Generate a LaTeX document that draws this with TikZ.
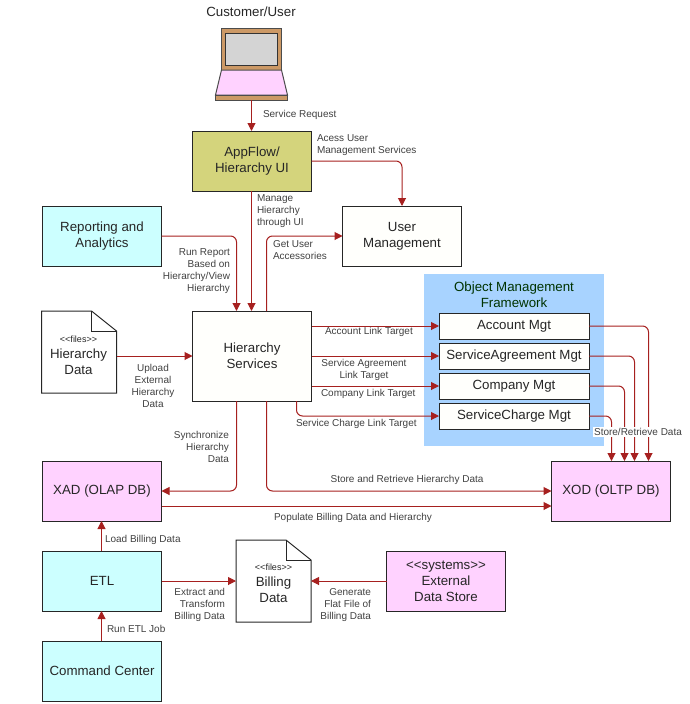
\documentclass[tikz,border=0pt]{standalone}
\usepackage{fontspec}
\setmainfont{Liberation Sans}
\usetikzlibrary{arrows.meta, positioning}
\definecolor{linkred}{HTML}{A6201F}
\definecolor{appolive}{HTML}{D4D47C}
\definecolor{etlcyan}{HTML}{CCFFFF}
\definecolor{dbpink}{HTML}{FFD2FF}
\definecolor{omfblue}{HTML}{A8D3FF}
\definecolor{laptan}{HTML}{CC9966}
\definecolor{ivory}{HTML}{FFFFFC}
\newcommand{\boxfont}{\fontsize{13.3}{16}\selectfont}
\newcommand{\labelfont}{\fontsize{10}{12}\selectfont}
\newcommand{\stereofont}{\fontsize{9}{12}\selectfont}
\tikzset{
	box/.style = {draw = black!85, line width = 1pt, inner sep = 0pt, outer sep = 0pt, align = center, minimum width = 119pt, minimum height = 60pt, font = \boxfont, text = black!85},
	mgt/.style = {box, fill = ivory, minimum width = 150pt, minimum height = 26pt},
	docnode/.style = {inner sep = 0pt, outer sep = 0pt, minimum width = 75pt, minimum height = 82pt},
	doctext/.style = {inner sep = 0pt, align = center, font = \boxfont, text = black!85},
	lbl/.style = {font = \labelfont, text = black!75, inner sep = 0pt, outer sep = 0pt},
	link/.style = {color = linkred, line width = 1pt, rounded corners = 6pt, -{Triangle[length=8pt, width=8pt]}}
}

\begin{document}
\begin{tikzpicture}[x=1pt, y=-1pt]
	\useasboundingbox (0,0) rectangle (689,704);
	% framework backdrop
	\node[fill = omfblue, minimum width = 180pt, minimum height = 172pt, inner sep = 0pt] at (514,360) (omf) {};
	\node[font = \boxfont, text = black!80!green, align = center] at (514,295) (omftitle) {Object Management\\Framework};
	% laptop
	\node[font = \boxfont, text = black!85] at (251,12) (user) {Customer/User};
	\draw[black!70, line width = 1pt, fill = laptan] (221.5,28.5) rectangle (281.5,70);
	\draw[black!80, line width = 1pt, fill = black!17] (225.5,33.5) rectangle (277.5,65.5);
	\draw[black!70, line width = 1pt, fill = dbpink] (221.5,70) -- (281.5,70) -- (287.5,95) -- (215.5,95) -- cycle;
	\draw[black!70, line width = 1pt, fill = laptan] (215.5,95) rectangle (287.5,100);
	\coordinate (laptop) at (251.5,100);
	% boxes
	\node[box, fill = appolive] at (252,161) (appflow) {AppFlow/\\Hierarchy UI};
	\node[box, fill = ivory] at (402,236) (usermgt) {User\\Management};
	\node[box, fill = etlcyan] at (102,236) (reporting) {Reporting and\\Analytics};
	\node[box, fill = ivory, minimum height = 90pt] at (252,356) (services) {Hierarchy\\Services};
	\node[mgt] at (514,326) (account) {Account Mgt};
	\node[mgt] at (514,356) (agreement) {ServiceAgreement Mgt};
	\node[mgt] at (514,386) (company) {Company Mgt};
	\node[mgt] at (514,416) (charge) {ServiceCharge Mgt};
	\node[box, fill = dbpink] at (102,491) (xad) {XAD (OLAP DB)};
	\node[box, fill = dbpink] at (611,491) (xod) {XOD (OLTP DB)};
	\node[box, fill = etlcyan] at (102,581) (etl) {ETL};
	\node[box, fill = etlcyan] at (102,671) (command) {Command Center};
	\node[box, fill = dbpink] at (446,581) (external) {<{}<systems>{}>\\External\\Data Store};
	% documents
	\node[docnode] at (79,352) (hdata) {};
	\node[docnode] at (273.5,581) (bdata) {};
	\node[doctext] at (78.5,355) (hdatatext) {{\stereofont <{}<files>{}>}\\Hierarchy\\Data};
	\node[doctext] at (273.5,583) (bdatatext) {{\stereofont <{}<files>{}>}\\Billing\\Data};
	\foreach \doc in {hdata, bdata} {
		\draw[black!85, line width = 1pt] (\doc.north west) -- ([xshift=-25pt]\doc.north east) -- ([yshift=-20pt]\doc.north east) -- (\doc.south east) -- (\doc.south west) -- cycle;
		\draw[black!85, line width = 1pt] ([xshift=-25pt]\doc.north east) -- ([xshift=-25pt, yshift=-20pt]\doc.north east) -- ([yshift=-20pt]\doc.north east);
	}
	% connectors
	\draw[link] (laptop) -- ([xshift=-.5pt]appflow.north);
	\draw[link] (appflow.east) -| (usermgt.north);
	\draw[link] ([xshift=-.5pt]appflow.south) -- ([xshift=-.5pt]services.north);
	\draw[link] (reporting.east) -| ([xshift=-15.5pt]services.north);
	\draw[link] ([xshift=14.5pt]services.north) |- (usermgt.west);
	\draw[link] (hdata.east |- services.west) -- (services.west);
	\draw[link] (services.east |- account.west) -- (account.west);
	\draw[link] (services.east |- agreement.west) -- (agreement.west);
	\draw[link] (services.east |- company.west) -- (company.west);
	\draw[link] ([xshift=44.5pt]services.south) |- (charge.west);
	\draw[link] ([xshift=-15.5pt]services.south) |- (xad.east);
	\draw[link] ([xshift=14.5pt]services.south) |- (xod.west);
	\draw[link] ([yshift=-15pt]xad.east) -- ([yshift=-15pt]xod.west);
	\draw[link] (account.east) -| ([xshift=37.5pt]xod.north);
	\draw[link] (agreement.east) -| ([xshift=23.5pt]xod.north);
	\draw[link] (company.east) -| ([xshift=13.5pt]xod.north);
	\draw[link] (charge.east) -| ([xshift=.5pt]xod.north);
	\draw[link] ([xshift=-.5pt]etl.north) -- ([xshift=-.5pt]xad.south);
	\draw[link] ([xshift=-.5pt]command.north) -- ([xshift=-.5pt]etl.south);
	\draw[link] (etl.east) -- (bdata.west);
	\draw[link] (external.west) -- (bdata.east);
	% labels
	\node[lbl, anchor = west] at (263,115) (l1) {Service Request};
	\node[lbl, anchor = west, align = left] at (317,145) (l2) {Acess User\\Management Services};
	\node[lbl, anchor = west, align = left] at (257,211) (l3) {Manage\\Hierarchy\\through UI};
	\node[lbl, anchor = west, align = left] at (273,250) (l4) {Get User\\Accessories};
	\node[lbl, anchor = east, align = right] at (230,271) (l5) {Run Report\\Based on\\Hierarchy/View\\Hierarchy};
	\node[lbl, anchor = west] at (325,332) (l6) {Account Link Target};
	\node[lbl, align = center] at (364,370) (l7) {Service Agreement\\Link Target};
	\node[lbl, anchor = west] at (321,394) (l8) {Company Link Target};
	\node[lbl, anchor = west] at (296,424) (l9) {Service Charge Link Target};
	\node[lbl, align = center] at (153,386) (l10) {Upload\\External\\Hierarchy\\Data};
	\node[lbl, anchor = east, align = right] at (229,447) (l11) {Synchronize\\Hierarchy\\Data};
	\node[lbl] at (407,480) (l12) {Store and Retrieve Hierarchy Data};
	\node[lbl] at (353,518) (l13) {Populate Billing Data and Hierarchy};
	\node[lbl, fill = white, inner sep = 1.5pt] at (638,432) (l14) {Store/Retrieve Data};
	\node[lbl, anchor = west] at (105,540) (l15) {Load Billing Data};
	\node[lbl, anchor = west] at (107,629) (l16) {Run ETL Job};
	\node[lbl, anchor = east, align = right] at (225,605) (l17) {Extract and\\Transform\\Billing Data};
	\node[lbl, anchor = east, align = right] at (371,605) (l18) {Generate\\Flat File of\\Billing Data};
\end{tikzpicture}
\end{document}
